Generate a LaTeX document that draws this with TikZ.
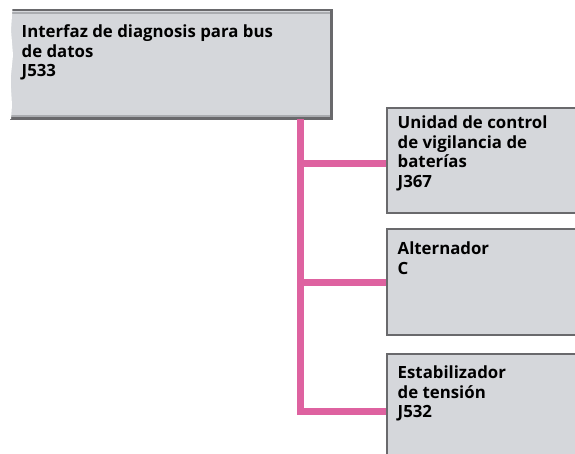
\documentclass[tikz,border=0pt]{standalone}
\usepackage{fontspec}
\setmainfont{Open Sans}
\definecolor{boxgray}{RGB}{213,215,219}
\definecolor{boxedge}{RGB}{105,105,108}
\definecolor{boxshade}{RGB}{170,172,176}
\definecolor{buspink}{RGB}{222,98,160}
\begin{document}
\begin{tikzpicture}[x=1pt,y=-1pt,
  unitbox/.style={rectangle, anchor=north west, inner sep=0pt, fill=boxgray, draw=boxedge, line width=1.8pt},
  lbl/.style={anchor=north west, align=left, inner sep=0pt, font=\bfseries\fontsize{16.8}{19.6}\selectfont, text=black},
  bus/.style={draw=buspink, line width=7pt, line join=miter, line cap=butt}]
\useasboundingbox (0,0) rectangle (575,453);
% top box (torn left edge)
\node[unitbox, draw=none, minimum width=320pt, minimum height=107pt] (top) at (10,10) {};
\draw[boxshade, line width=1.5pt] ([yshift=-3pt]top.north west) -- ([yshift=-3pt]top.north east);
\draw[boxshade, line width=1.5pt] ([yshift=3pt]top.south west) -- ([yshift=3pt]top.south east);
\draw[boxedge, line width=2.8pt] (top.north west) -- (top.north east) -- (top.south east) -- (top.south west);
\fill[white] (9,8) -- (12.5,8) -- (11,30) -- (13,55) -- (10.5,80) -- (12,105) -- (11,119) -- (9,119) -- cycle;
\node[lbl] (toptxt) at (21.5,24.5) {Interfaz de diagnosis para bus\\de datos\\J533};
% right boxes
\node[unitbox, minimum width=200pt, minimum height=105pt] (b1) at (386,107) {};
\node[unitbox, minimum width=200pt, minimum height=106pt] (b2) at (386,228) {};
\node[unitbox, minimum width=200pt, minimum height=120pt] (b3) at (386,353) {};
\node[lbl] (t1) at (397.5,115.5) {Unidad de control\\de vigilancia de\\baterías\\J367};
\node[lbl] (t2) at (397.5,241.5) {Alternador\\C};
\node[lbl] (t3) at (397.5,365.5) {Estabilizador\\de tensión\\J532};
% bus
\coordinate (j1) at (300,163);
\coordinate (j2) at (300,282);
\coordinate (j3) at (300,411);
\draw[bus] (top.south -| j3) -- (j3) -- (j3 -| b3.west);
\draw[bus] (j1) -- (j1 -| b1.west);
\draw[bus] (j2) -- (j2 -| b2.west);
\end{tikzpicture}
\end{document}
